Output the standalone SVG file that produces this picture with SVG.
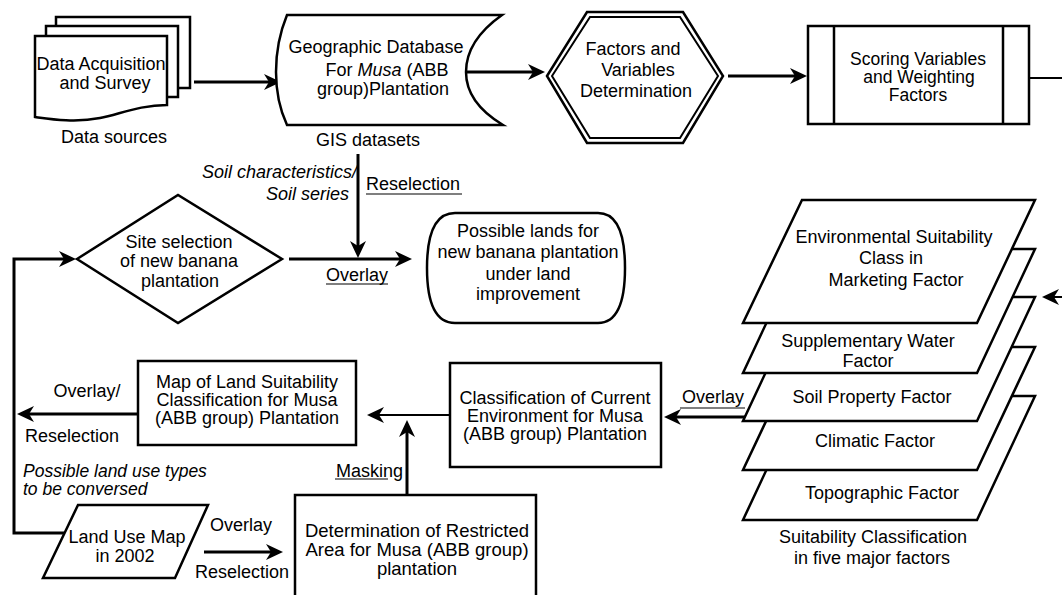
<svg xmlns="http://www.w3.org/2000/svg" width="1062" height="595" viewBox="0 0 1062 595">
<style>
text{font-family:"Liberation Sans",Arial,sans-serif;font-size:18px;fill:#000;text-anchor:middle}
.it{font-style:italic}
.st{text-anchor:start}
.en{text-anchor:end}
.sh{fill:#fff;stroke:#000;stroke-width:2.5;stroke-linejoin:miter}
.cn{fill:none;stroke:#000;stroke-width:3}
.cn2{fill:none;stroke:#000;stroke-width:2}
.ul{stroke:#000;stroke-width:1.2}
</style>
<defs>
<marker id="ah" markerUnits="userSpaceOnUse" markerWidth="18" markerHeight="18" viewBox="0 0 18 18" refX="12" refY="9" orient="auto">
<path d="M0,1 L17,9 L0,17 L5,9 Z" fill="#000"/>
</marker>
</defs>
<rect width="1062" height="595" fill="#fff"/>

<g id="connectors">
<line class="cn" x1="194" y1="82" x2="276" y2="82" marker-end="url(#ah)"/>
<line class="cn" x1="466" y1="72" x2="540" y2="72" marker-end="url(#ah)"/>
<line class="cn" x1="728" y1="76" x2="802" y2="76" marker-end="url(#ah)"/>
<path class="cn2" d="M1029,78 H1070 V297 H1047" marker-end="url(#ah)"/>
<line class="cn" x1="358" y1="154" x2="358" y2="253" marker-end="url(#ah)"/>
<line class="cn" x1="289" y1="259" x2="407" y2="259" marker-end="url(#ah)"/>
<path class="cn" d="M64,533 H14 V259 H71" marker-end="url(#ah)"/>
<line class="cn" x1="138" y1="414" x2="22" y2="414" marker-end="url(#ah)"/>
<line class="cn2" x1="450" y1="415" x2="372" y2="415" marker-end="url(#ah)"/>
<line class="cn" x1="407" y1="495" x2="407" y2="425" marker-end="url(#ah)"/>
<line class="cn" x1="745" y1="417" x2="669" y2="417" marker-end="url(#ah)"/>
<line class="cn" x1="204" y1="552" x2="278" y2="552" marker-end="url(#ah)"/>
</g>

<g id="labels">
<text class="it en" x="357" y="178">Soil characteristics/</text>
<text class="it en" x="349" y="200">Soil series</text>
<text class="st" x="366" y="190">Reselection</text>
<line class="ul" x1="366" y1="194" x2="462" y2="194"/>
<text x="357" y="281">Overlay</text>
<line class="ul" x1="326" y1="284" x2="388" y2="284"/>
<text x="87" y="397">Overlay/</text>
<text x="72" y="442">Reselection</text>
<text class="it st" x="23" y="477" style="font-size:17.5px">Possible land use types</text>
<text class="it st" x="23" y="495" style="font-size:17.5px">to be conversed</text>
<text x="241" y="531">Overlay</text>
<text x="242" y="578">Reselection</text>
<text class="en" x="403" y="477">Masking</text>
<line class="ul" x1="335" y1="479" x2="388" y2="479"/>
<text x="713" y="403">Overlay</text>
<line class="ul" x1="680" y1="408" x2="745" y2="408"/>
</g>

<g id="data-acquisition">
<path class="sh" d="M56,17 H190 V88 H56 Z"/>
<path class="sh" d="M46,26 H178 V97 H46 Z"/>
<path class="sh" d="M35,36 H167 V105 C140,105 120,114 100,118 C75,123 50,119 35,117 Z"/>
<text x="101" y="70">Data Acquisition</text>
<text x="105" y="89">and Survey</text>
<text x="114" y="143">Data sources</text>
</g>

<g id="gis-database">
<path class="sh" d="M287,15 H502 C478,32 466,52 466,72 C466,92 478,110 503,125 H287 C280,110 276,92 276,72 C276,52 280,32 287,15 Z"/>
<text x="376" y="53">Geographic Database</text>
<text x="387" y="76">For <tspan class="it">Musa</tspan> (ABB</text>
<text x="383" y="95">group)Plantation</text>
<text x="368" y="146">GIS datasets</text>
</g>

<g id="factors-variables">
<path class="sh" stroke-width="2" d="M547,76 L587,12 L683,12 L723,76 L683,143 L587,143 Z"/>
<path fill="none" stroke="#000" stroke-width="2" d="M552,76 L590,17 L680,17 L718,76 L680,138 L590,138 Z"/>
<text x="633" y="55">Factors and</text>
<text x="638" y="76">Variables</text>
<text x="636" y="97">Determination</text>
</g>

<g id="scoring">
<rect class="sh" x="808" y="26" width="221" height="98"/>
<line stroke="#000" stroke-width="2.5" x1="834" y1="26" x2="834" y2="124"/>
<line stroke="#000" stroke-width="2.5" x1="1003" y1="26" x2="1003" y2="124"/>
<text x="918" y="65" style="font-size:17.5px">Scoring Variables</text>
<text x="919" y="83" style="font-size:17.5px">and Weighting</text>
<text x="918" y="101" style="font-size:17.5px">Factors</text>
</g>

<g id="site-selection">
<path class="sh" d="M77,259 L178,195 L282,259 L178,323 Z"/>
<text x="179" y="248">Site selection</text>
<text x="179" y="267">of new banana</text>
<text x="180" y="287">plantation</text>
</g>

<g id="possible-lands">
<path class="sh" d="M455,213 H598 C620,213 625,240 625,268 C625,296 620,323 598,323 H455 C433,323 427,296 427,268 C427,240 433,213 455,213 Z"/>
<text x="528" y="237">Possible lands for</text>
<text x="528" y="258">new banana plantation</text>
<text x="528" y="280">under land</text>
<text x="528" y="300">improvement</text>
</g>

<g id="suitability-layers">
<path class="sh" d="M801,396 H1035 L977,520 H743 Z"/>
<path class="sh" d="M801,347 H1035 L977,470 H743 Z"/>
<path class="sh" d="M801,297 H1035 L977,421 H743 Z"/>
<path class="sh" d="M801,249 H1035 L977,373 H743 Z"/>
<path class="sh" d="M802,200 H1035 L977,323 H743 Z"/>
<text x="894" y="243">Environmental Suitability</text>
<text x="891" y="264">Class in</text>
<text x="896" y="286">Marketing Factor</text>
<text x="868" y="347">Supplementary Water</text>
<text x="868" y="367">Factor</text>
<text x="872" y="403">Soil Property Factor</text>
<text x="875" y="447">Climatic Factor</text>
<text x="882" y="499">Topographic Factor</text>
<text x="873" y="543">Suitability Classification</text>
<text x="872" y="564">in five major factors</text>
</g>

<g id="classification-current">
<rect class="sh" x="450" y="363" width="211" height="104"/>
<text x="555" y="404">Classification of Current</text>
<text x="555" y="422">Environment for Musa</text>
<text x="555" y="440">(ABB group) Plantation</text>
</g>

<g id="land-suitability-map">
<rect class="sh" x="138" y="361" width="218" height="84"/>
<text x="247" y="388">Map of Land Suitability</text>
<text x="247" y="406">Classification for Musa</text>
<text x="247" y="424">(ABB group) Plantation</text>
</g>

<g id="land-use-map">
<path class="sh" d="M78,505 H208 L175,578 H43 Z"/>
<text x="127" y="543">Land Use Map</text>
<text x="125" y="562">in 2002</text>
</g>

<g id="restricted-area">
<path class="sh" d="M295,600 V495 H536 V600"/>
<text x="417" y="537" style="font-size:18.5px">Determination of Restricted</text>
<text x="417" y="556" style="font-size:18.5px">Area for Musa (ABB group)</text>
<text x="417" y="575" style="font-size:18.5px">plantation</text>
</g>
</svg>
